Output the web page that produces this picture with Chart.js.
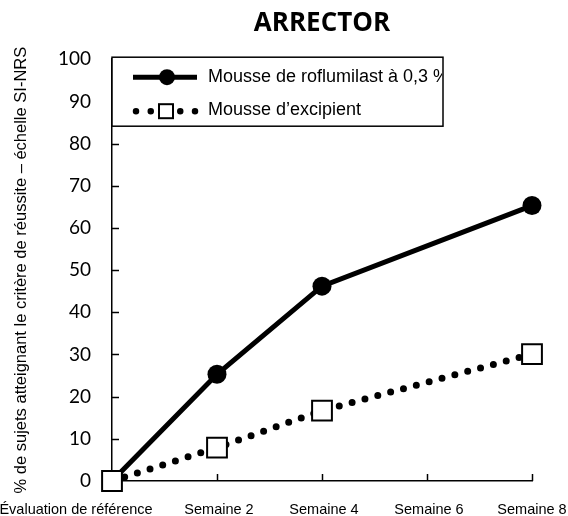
<!DOCTYPE html>
<html><head><meta charset="utf-8">
<script src="https://cdn.jsdelivr.net/npm/chart.js@4/dist/chart.umd.min.js"></script>
<style>html,body{margin:0;padding:0;background:#fff}#w{width:568px;height:516px}</style>
</head><body><div id="w"><canvas id="c" width="568" height="516"></canvas></div>
<script>
// ---- data ----
const weeks = [0, 2, 4, 8];
const roflumilast = [0, 25.3, 46.2, 65.3];
const vehicle = [0, 7.9, 16.7, 30.1];
const tickWeeks = [0, 2, 4, 6, 8];
const tickLabels = ['Évaluation de référence', 'Semaine 2', 'Semaine 4', 'Semaine 6', 'Semaine 8'];
const seriesNames = ['Mousse de roflumilast à 0,3 %', 'Mousse d\u2019excipient'];
const chartTitle = 'ARRECTOR';
const yTitle = '% de sujets atteignant le critère de réussite \u2013 échelle SI-NRS';

const toPts = (vals) => weeks.map((w, i) => ({x: w, y: vals[i]}));

const decor = {
  id: 'decor',
  afterDraw(chart) {
    const {ctx, chartArea: a, scales: {x, y}} = chart;
    ctx.save();
    ctx.strokeStyle = '#000';
    ctx.lineWidth = 1.5;
    // inward tick marks
    y.ticks.forEach(t => {
      if (t.value === 0) return;
      const py = Math.round(y.getPixelForValue(t.value)) + 0.5;
      ctx.beginPath(); ctx.moveTo(a.left, py); ctx.lineTo(a.left + 7, py); ctx.stroke();
    });
    tickWeeks.forEach(w => {
      if (w === 0) return;
      const px = Math.round(x.getPixelForValue(w)) + 0.5;
      ctx.beginPath(); ctx.moveTo(px, a.bottom); ctx.lineTo(px, a.bottom - 7); ctx.stroke();
    });
    // x labels
    ctx.fillStyle = '#000';
    ctx.font = '14.5px "Liberation Sans", Arial, sans-serif';
    ctx.textAlign = 'center';
    ctx.textBaseline = 'alphabetic';
    tickWeeks.forEach((w, i) => {
      let px = x.getPixelForValue(w);
      if (i === 0) px -= 36;
      else if (i < tickWeeks.length - 1) px += 2;
      ctx.fillText(tickLabels[i], px, a.bottom + 33);
    });
    // legend box
    const bx = a.left, by = a.top - 2, bw = 331, bh = 69;
    ctx.fillStyle = '#fff';
    ctx.fillRect(bx, by, bw, bh);
    ctx.lineWidth = 1.5;
    ctx.strokeRect(bx, by, bw, bh);
    const ds = chart.data.datasets;
    const r1 = by + 20, r2 = by + 54;
    // row 1: solid line + filled circle
    ctx.lineWidth = 5;
    ctx.setLineDash([]);
    ctx.beginPath(); ctx.moveTo(bx + 21, r1); ctx.lineTo(bx + 85, r1); ctx.stroke();
    ctx.fillStyle = ds[0].pointBackgroundColor;
    ctx.beginPath(); ctx.arc(bx + 55, r1, 8, 0, Math.PI * 2); ctx.fill();
    // row 2: dotted line + hollow square
    ctx.lineWidth = 6.5;
    ctx.lineCap = 'round';
    ctx.setLineDash([0, 14.75]);
    ctx.beginPath(); ctx.moveTo(bx + 24, r2); ctx.lineTo(bx + 84, r2); ctx.stroke();
    ctx.setLineDash([]);
    ctx.fillStyle = '#fff';
    ctx.lineWidth = 2;
    ctx.fillRect(bx + 47, r2 - 7, 14, 14);
    ctx.strokeRect(bx + 47, r2 - 7, 14, 14);
    // legend text, clipped to the box
    ctx.save();
    ctx.beginPath(); ctx.rect(bx, by, bw - 1, bh); ctx.clip();
    ctx.fillStyle = '#000';
    ctx.font = '18px "Liberation Sans", Arial, sans-serif';
    ctx.textAlign = 'left';
    ctx.textBaseline = 'middle';
    ctx.fillText(seriesNames[0], bx + 96, r1);
    ctx.fillText(seriesNames[1], bx + 96, r2 - 1);
    ctx.restore();
    ctx.restore();
  }
};

new Chart(document.getElementById('c'), {
  type: 'line',
  data: {
    datasets: [
      {
        label: seriesNames[0],
        data: toPts(roflumilast),
        borderColor: '#000',
        borderWidth: 5,
        pointStyle: 'circle',
        pointRadius: 9.5,
        pointBackgroundColor: '#000',
        pointBorderColor: '#000',
        pointBorderWidth: 0,
        tension: 0,
        clip: false,
        order: 1
      },
      {
        label: seriesNames[1],
        data: toPts(vehicle),
        borderColor: '#000',
        borderWidth: 7,
        borderDash: [0, 13.3],
        borderCapStyle: 'round',
        pointStyle: 'rect',
        pointRadius: 14,
        pointBackgroundColor: '#fff',
        pointBorderColor: '#000',
        pointBorderWidth: 2,
        tension: 0,
        clip: false,
        order: 0
      }
    ]
  },
  options: {
    responsive: false,
    animation: false,
    events: [],
    layout: {padding: {left: 0, right: 36, top: 0, bottom: 0}},
    plugins: {
      legend: {display: false},
      tooltip: {enabled: false},
      title: {
        display: true,
        text: chartTitle,
        fullSize: false,
        color: '#000',
        font: {family: '"Open Sans", sans-serif', size: 26, weight: 'bold'},
        padding: {top: 8, bottom: 20}
      }
    },
    scales: {
      x: {
        type: 'linear',
        min: 0,
        max: 8,
        grid: {display: false, drawTicks: false},
        border: {display: true, color: '#000', width: 1.5},
        ticks: {display: false, stepSize: 2},
        afterFit(s) { s.height = 35; }
      },
      y: {
        min: 0,
        max: 100,
        grid: {display: false, drawTicks: false},
        border: {display: true, color: '#000', width: 1.5},
        ticks: {
          stepSize: 10,
          padding: 21,
          color: '#000',
          font: {family: 'Lato, sans-serif', size: 19}
        },
        title: {
          display: true,
          text: yTitle,
          color: '#000',
          font: {family: '"Liberation Sans", Arial, sans-serif', size: 16.5},
          padding: {top: 12, bottom: 0}
        },
        afterFit(s) { s.width = 112; }
      }
    }
  },
  plugins: [decor]
});
</script>
</body></html>
